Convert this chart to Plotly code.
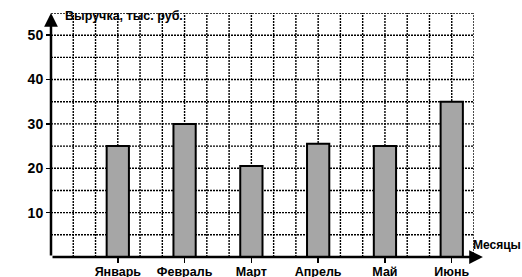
import plotly.graph_objects as go

months = ["Январь", "Февраль", "Март", "Апрель", "Май", "Июнь"]
revenue = [25, 30, 20.5, 25.5, 25, 35]
y_ticks = [10, 20, 30, 40, 50]

# layout geometry (grid units)
X_MAX = 19
Y_MAX = 55
STEP = 3
xpos = [STEP * (i + 1) for i in range(len(months))]

FONT = "Liberation Sans, Arial, sans-serif"

fig = go.Figure()
fig.add_trace(go.Bar(
    x=xpos, y=revenue, width=1,
    marker=dict(color="#a6a6a6", line=dict(color="black", width=2)),
    hoverinfo="skip",
))

shapes = []
grid_line = dict(color="black", width=1.4, dash="2px,1px")
for k in range(1, X_MAX + 1):
    shapes.append(dict(type="line", xref="x", yref="y", x0=k, x1=k, y0=0, y1=Y_MAX,
                       line=grid_line, layer="below"))
for k in range(1, Y_MAX // 5 + 1):
    shapes.append(dict(type="line", xref="x", yref="y", x0=0, x1=X_MAX, y0=5 * k, y1=5 * k,
                       line=grid_line, layer="below"))

annotations = [
    dict(x=X_MAX + 0.4, y=0, xref="x", yref="y", ax=0, ay=0, axref="x", ayref="y",
         showarrow=True, arrowhead=2, arrowsize=1.1, arrowwidth=2.5, arrowcolor="black", text=""),
    dict(x=0, y=Y_MAX, xref="x", yref="y", ax=0, ay=0, axref="x", ayref="y",
         showarrow=True, arrowhead=2, arrowsize=1.1, arrowwidth=2.5, arrowcolor="black", text=""),
    dict(x=0.55, y=Y_MAX - 0.6, xref="x", yref="y", xanchor="left", yanchor="middle",
         text="<b>Выручка, тыс. руб.</b>", showarrow=False,
         font=dict(family=FONT, size=12.5, color="black")),
    dict(x=1.0, y=2.6, xref="paper", yref="y", xanchor="right", yanchor="middle",
         text="<b>Месяцы</b>", showarrow=False, xshift=48, borderpad=0,
         font=dict(family=FONT, size=12, color="black")),
]

fig.update_layout(
    width=522, height=277,
    margin=dict(l=51, r=48, t=12.5, b=20, autoexpand=False),
    plot_bgcolor="white", paper_bgcolor="white",
    showlegend=False,
    shapes=shapes,
    annotations=annotations,
    bargap=0,
    xaxis=dict(range=[0, X_MAX], tickvals=xpos, ticktext=[f"<b>{m}</b>" for m in months],
               showgrid=False, zeroline=False, showline=False, automargin=False,
               ticks="outside", ticklen=5, tickwidth=1.5, tickcolor="black",
               ticklabelstandoff=-2,
               tickfont=dict(family=FONT, size=12.5, color="black"), fixedrange=True),
    yaxis=dict(range=[0, Y_MAX], tickvals=y_ticks, ticktext=[f"<b>{v}</b>" for v in y_ticks],
               showgrid=False, zeroline=False, showline=False, automargin=False,
               ticks="outside", ticklen=4, tickwidth=1.5, tickcolor="black",
               tickfont=dict(family=FONT, size=14, color="black"), fixedrange=True),
)

# remove the default page margin so the 522x277 figure fills the window exactly
fig.write_html(
    "out.html",
    config={"displayModeBar": False, "staticPlot": True},
    post_script="document.body.style.margin='0';document.documentElement.style.overflow='hidden';",
)
